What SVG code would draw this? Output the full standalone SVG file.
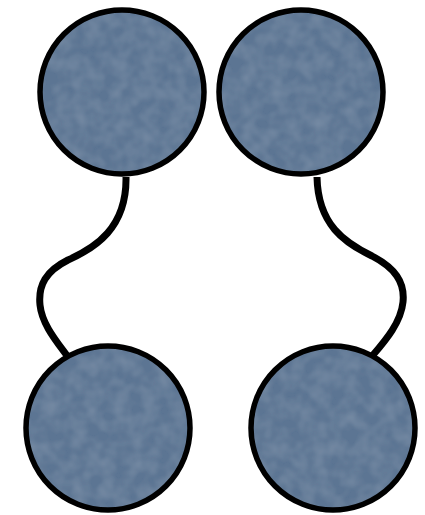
<svg xmlns="http://www.w3.org/2000/svg" width="425" height="515" viewBox="0 0 425 515">
<defs>
<filter id="tex" x="-5%" y="-5%" width="110%" height="110%">
<feTurbulence type="fractalNoise" baseFrequency="0.07" numOctaves="2" seed="3" result="n"/>
<feColorMatrix in="n" type="matrix" values="0 0 0 0 0.42  0 0 0 0 0.52  0 0 0 0 0.63  0 0 0 0.35 -0.1" result="c"/>
<feComposite in="c" in2="SourceGraphic" operator="in" result="m"/>
<feMerge><feMergeNode in="SourceGraphic"/><feMergeNode in="m"/></feMerge>
</filter>
</defs>
<style>
.fill{fill:#5c7593;stroke:none}
.ring{fill:none;stroke:#000;stroke-width:5.5}
.edge{fill:none;stroke:#000;stroke-width:7;stroke-linecap:butt}
</style>
<rect width="425" height="515" fill="#fff"/>
<g id="connectors">
<path class="edge" d="M126,177 C127,228 95,248 68,260 C46,271 38,285 40,305 C42,325 58,343 68,357"/>
<path class="edge" d="M317,177 C318,225 345,243 372,256 C395,268 405,282 403,302 C401,322 386,340 373,355"/>
</g>
<g id="node-top-left"><circle class="fill" cx="122" cy="92" r="82" filter="url(#tex)"/><circle class="ring" cx="122" cy="92" r="82"/></g>
<g id="node-top-right"><circle class="fill" cx="301" cy="92" r="82" filter="url(#tex)"/><circle class="ring" cx="301" cy="92" r="82"/></g>
<g id="node-bottom-left"><circle class="fill" cx="108" cy="428" r="82" filter="url(#tex)"/><circle class="ring" cx="108" cy="428" r="82"/></g>
<g id="node-bottom-right"><circle class="fill" cx="333" cy="428" r="82" filter="url(#tex)"/><circle class="ring" cx="333" cy="428" r="82"/></g>
</svg>
